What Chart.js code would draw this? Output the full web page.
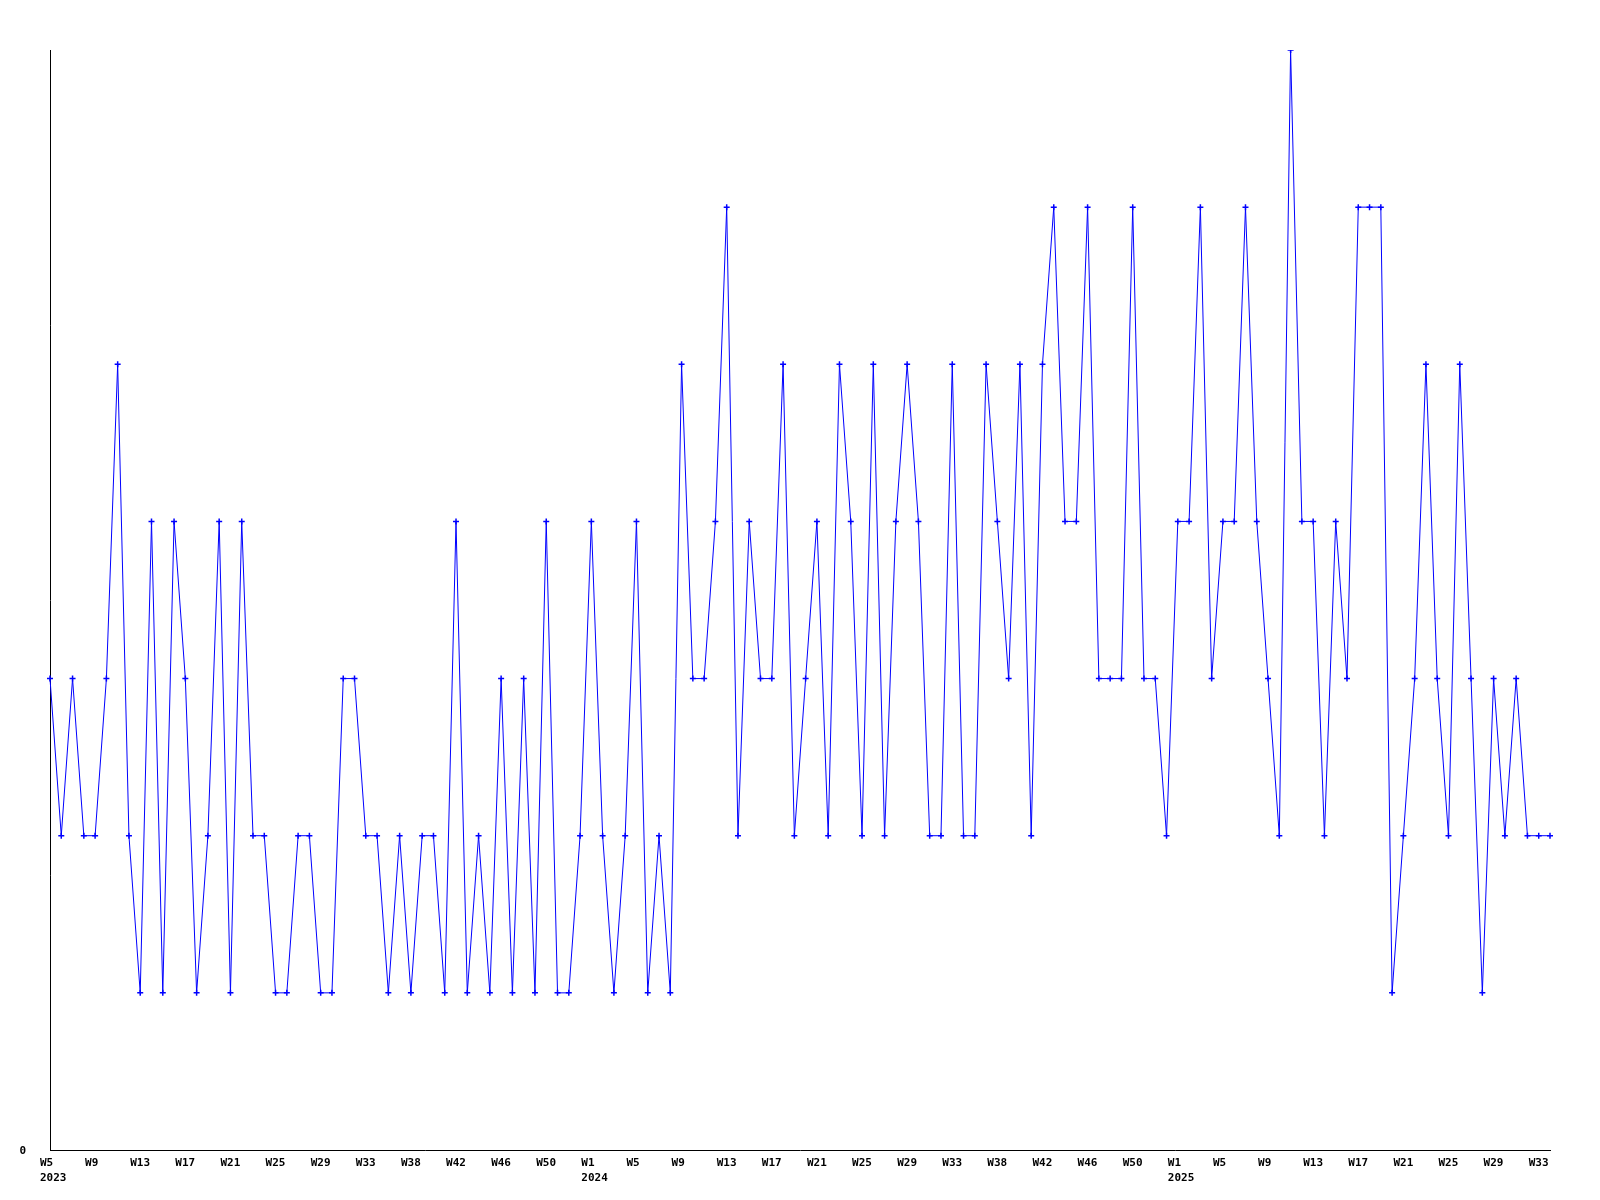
<!DOCTYPE html>
<html>
<head>
<meta charset="utf-8">
<script src="https://cdn.jsdelivr.net/npm/chart.js@4/dist/chart.umd.min.js"></script>
<style>
  html, body { margin: 0; padding: 0; background: #fff; }
  canvas { display: block; }
</style>
</head>
<body>
<canvas id="weekly" width="1600" height="1200"></canvas>
<script>
// weekly counts, 2023 W5 .. 2025 W34
const counts = [
  3, 2, 3, 2, 2, 3, 5, 2, 1, 4, 1, 4, 3, 1, 2, 4, 1, 4, 2,
  2, 1, 1, 2, 2, 1, 1, 3, 3, 2, 2, 1, 2, 1, 2, 2, 1, 4, 1,
  2, 1, 3, 1, 3, 1, 4, 1, 1, 2, 4, 2, 1, 2, 4, 1, 2, 1,
  5, 3, 3, 4, 6, 2, 4, 3, 3, 5, 2, 3, 4, 2, 5, 4, 2, 5, 2,
  4, 5, 4, 2, 2, 5, 2, 2, 5, 4, 3, 5, 2, 5, 6, 4, 4, 6, 3,
  3, 3, 6, 3, 3, 2, 4, 4, 6, 3, 4, 4, 6, 4, 3, 2, 7, 4,
  4, 2, 4, 3, 6, 6, 6, 1, 2, 3, 5, 3, 2, 5, 3, 1, 3, 2, 3, 2, 2, 2
];

// one label every 4th week
const weekTicks = [
  'W5', 'W9', 'W13', 'W17', 'W21', 'W25', 'W29', 'W33', 'W38', 'W42', 'W46', 'W50',
  'W1', 'W5', 'W9', 'W13', 'W17', 'W21', 'W25', 'W29', 'W33', 'W38', 'W42', 'W46', 'W50',
  'W1', 'W5', 'W9', 'W13', 'W17', 'W21', 'W25', 'W29', 'W33'
];
const yearStart = [0, 48, 100];
const yearNames = ['2023', '2024', '2025'];

const labels = counts.map((_, i) => {
  if (i % 4 !== 0) return '';
  const y = yearStart.indexOf(i);
  return [weekTicks[i / 4], y >= 0 ? yearNames[y] : ''];
});

const tickFont = { family: '"DejaVu Sans Mono", monospace', size: 11, weight: 'bold', lineHeight: 1.35 };

const ctx = document.getElementById('weekly').getContext('2d');
const chart = new Chart(ctx, {
  type: 'line',
  data: {
    labels: labels,
    datasets: [{
      data: counts,
      borderColor: '#0000ff',
      backgroundColor: '#0000ff',
      borderWidth: 1,
      tension: 0,
      pointStyle: 'cross',
      pointRadius: 3,
      pointBorderWidth: 1.5,
      pointBorderColor: '#0000ff'
    }]
  },
  options: {
    responsive: false,
    animation: false,
    layout: { padding: { top: 50, right: 50, left: 0, bottom: 0 } },
    plugins: {
      legend: { display: false },
      tooltip: { enabled: false }
    },
    scales: {
      x: {
        grid: { display: false, drawTicks: false },
        border: { display: true, color: '#000', width: 1 },
        ticks: {
          autoSkip: false,
          maxRotation: 0,
          minRotation: 0,
          align: 'start',
          labelOffset: -10,
          padding: 6,
          color: '#000',
          font: tickFont
        },
        afterFit: (scale) => { scale.height = 50; }
      },
      y: {
        min: 0,
        max: 7,
        grid: { display: false, drawTicks: false },
        border: { display: true, color: '#000', width: 1 },
        ticks: {
          stepSize: 1,
          padding: 24,
          labelOffset: 1,
          color: '#000',
          font: tickFont,
          callback: (v) => (v === 0 ? '0' : '')
        },
        afterFit: (scale) => { scale.width = 50; }
      }
    }
  }
});
</script>
</body>
</html>
